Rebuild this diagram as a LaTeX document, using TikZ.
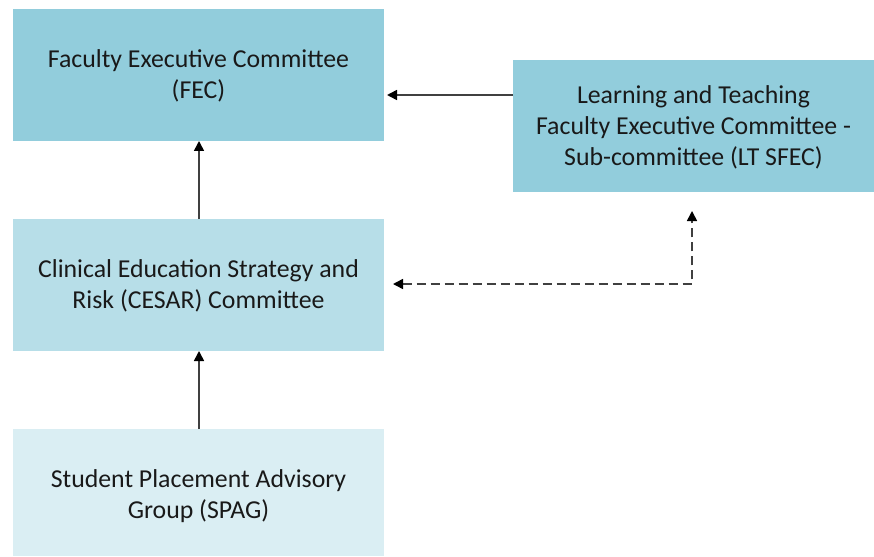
\documentclass[tikz,border=0pt]{standalone}
\usepackage{fontspec}
\setmainfont{Carlito}
\usetikzlibrary{arrows.meta}
\definecolor{boxA}{HTML}{92CDDC}
\definecolor{boxB}{HTML}{B7DEE8}
\definecolor{boxC}{HTML}{DAEEF3}
\definecolor{linec}{HTML}{404040}
\begin{document}
\begin{tikzpicture}[x=1pt,y=-1pt,
  boxnode/.style={draw=none,inner sep=0pt,align=center,text=black!90,
    font=\fontsize{25.8}{31}\selectfont},
  conn/.style={draw=linec,line width=1.6pt,-{Triangle[length=10pt,width=10pt,color=black]}},
  dconn/.style={draw=linec,line width=1.6pt,dash pattern=on 9pt off 5pt,
    {Triangle[length=10pt,width=10pt,color=black]}-{Triangle[length=10pt,width=10pt,color=black]}}]
\useasboundingbox (0,0) rectangle (874,556);
\fill[boxA] (13,9) rectangle (384,141);
\fill[boxA] (513,60) rectangle (874,192);
\fill[boxB] (13,219) rectangle (384,351);
\fill[boxC] (13,429) rectangle (384,556);
\node[boxnode] (fec) at (198.5,76) {Faculty Executive Committee\\(FEC)};
\node[boxnode] (lt) at (693.5,127.5) {Learning and Teaching\\Faculty Executive Committee -\\Sub-committee (LT SFEC)};
\node[boxnode] (cesar) at (198.5,286) {Clinical Education Strategy and\\Risk (CESAR) Committee};
\node[boxnode] (spag) at (198.5,496) {Student Placement Advisory\\Group (SPAG)};
\coordinate (fecS) at (199,141);
\coordinate (fecE) at (387,95);
\coordinate (ltW) at (513,95);
\coordinate (cesN) at (199,219);
\coordinate (cesS) at (199,351);
\coordinate (cesE) at (393,284);
\coordinate (spagN) at (199,429);
\coordinate (ltS) at (692,211);
\draw[conn] (cesN) -- (fecS);
\draw[conn] (spagN) -- (cesS);
\draw[conn] (ltW) -- (fecE);
\draw[dconn] (cesE) -- (692,284) -- (ltS);
\end{tikzpicture}
\end{document}
